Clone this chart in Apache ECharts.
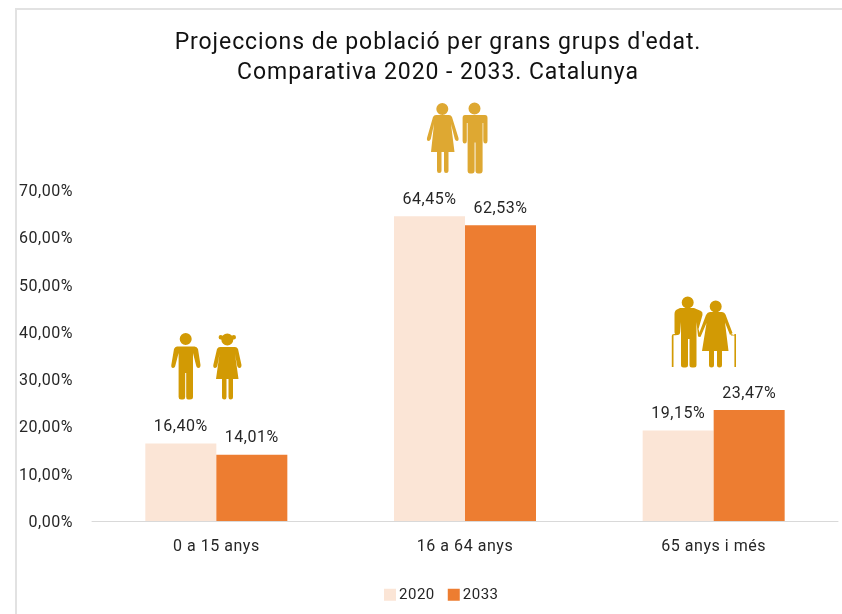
<!DOCTYPE html>
<html><head><meta charset="utf-8">
<style>html,body{margin:0;padding:0;background:#fff}#c{width:842px;height:614px}</style>
<script src="https://cdn.jsdelivr.net/npm/echarts@6/dist/echarts.min.js"></script>
</head><body><div id="c"></div>
<script>
const categories = ['0 a 15 anys', '16 a 64 anys', '65 anys i més'];
const values2020 = [16.40, 64.45, 19.15];
const values2033 = [14.01, 62.53, 23.47];
const titleText = "Projeccions de població per grans grups d'edat.\nComparativa 2020 - 2033. Catalunya";
const fontFamily = 'Roboto';
const fmt = v => v.toFixed(2).replace('.', ',') + '%';

// The reference text is set with slight tracking.
const fontDesc = Object.getOwnPropertyDescriptor(CanvasRenderingContext2D.prototype, 'font');
Object.defineProperty(CanvasRenderingContext2D.prototype, 'font', {
  get() { return fontDesc.get.call(this); },
  set(v) {
    fontDesc.set.call(this, v);
    const m = /(\d+(?:\.\d+)?)px/.exec(v);
    const size = m ? +m[1] : 0;
    this.letterSpacing = (size * (size > 20 ? 0.04 : 0.034)).toFixed(2) + 'px';
  }
});

const circle = (cx, cy, r) => `M${cx - r} ${cy}A${r} ${r} 0 1 1 ${cx + r} ${cy}A${r} ${r} 0 1 1 ${cx - r} ${cy}Z`;

const boy = circle(185.7, 339, 6) +
  'M177 346.5H194.5Q197 346.5 198 349L200.5 365Q200.5 368 198.5 368Q196.5 368 196 365L193 353V397Q193 399.5 190 399.5H188Q186.2 399.5 186.2 397V373H185.2V397Q185.2 399.5 183 399.5H181Q178.6 399.5 178.6 397V353L175.5 365Q175 368 173 368Q171 368 171.3 365L174 349Q175 346.5 177 346.5Z';
const girl = circle(227.3, 339.5, 6) + circle(220.8, 337.3, 2.2) + circle(233.8, 337.3, 2.2) +
  'M220 347H235Q237 347 238 349L241.5 365Q241.5 368 239.5 368Q237.5 368 237 365L235 354L238.5 379H233V397Q233 399.5 230.5 399.5Q228.5 399.5 228.5 397V379H226.5V397Q226.5 399.5 224.5 399.5Q222 399.5 222 397V379H216L219.5 354L217.5 365Q217 368 215 368Q213 368 213.3 365L217 349Q218 347 220 347Z';
const woman = circle(442.3, 109, 6) +
  'M436 115H449Q451 115 452 117L458.5 138Q459 141 457 141Q455.5 141 454.8 139L451 124L454.5 152H448.5V170.5Q448.5 173 446 173Q444 173 444 170.5V152H441.5V170.5Q441.5 173 439 173Q437 173 437 170.5V152H431L434 124L430.8 139Q430 141 428.5 141Q426.5 141 427 138L433 117Q434 115 436 115Z';
const man = circle(474.5, 108.5, 6) +
  'M465 115H485Q487.5 115 487.5 118V141Q487.5 143.5 485.5 143.5Q483.3 143.5 483.3 141V123H482.6V170.5Q482.6 173.5 480 173.5H478Q475.5 173.5 475.5 170.5V142.5H474.6V170.5Q474.6 173.5 472 173.5H470Q467.6 173.5 467.6 170.5V123H466.8V141Q466.8 143.5 464.8 143.5Q462.6 143.5 462.6 141V118Q462.6 115 465 115Z';
const oldMan = circle(687.7, 302.5, 6) +
  'M680 308H694L701 311Q703 312 702.5 315L698.5 329L700.5 336Q699 338 698 336L696.5 322V365Q696.5 367.5 694 367.5H692Q689.5 367.5 689.5 365V339H688V365Q688 367.5 685.5 367.5H683.5Q681 367.5 681 365V322L680.2 332Q680 335 677.5 335Q674.5 335 674.5 332V314Q674.5 310 678 309Z' +
  'M671.8 336Q671.8 334 674 334H676.5V335.3H673.5V367H671.8Z';
const oldWoman = circle(715.7, 306.5, 6) +
  'M710 312H722Q724.5 312 725.5 314.5L732.5 333L730 335L725 322.5L728.5 351H722V365Q722 367.5 719.5 367.5Q717 367.5 717 365V351H714V365Q714 367.5 711.5 367.5Q709 367.5 709 365V351H702L706.5 323L700.5 337L698.5 335L706 315Q707.5 312 710 312Z' +
  'M733.8 335Q733.8 334 736 334V367H734.4V335.5H731V334Z';
const icons = [[boy, '#D29A04'], [girl, '#D29A04'], [woman, '#DEA832'], [man, '#DEA832'], [oldMan, '#D29A04'], [oldWoman, '#D29A04']];

const textColor = '#262626';
const chart = echarts.init(document.getElementById('c'), null, { renderer: 'canvas' });
chart.setOption({
  animation: false,
  backgroundColor: '#fff',
  textStyle: { fontFamily },
  title: {
    text: titleText, left: 433, top: 23, textAlign: 'center',
    textStyle: { fontFamily, fontSize: 23, fontWeight: 400, color: '#111', lineHeight: 30 }
  },
  grid: { left: 92, right: 4, top: 190, bottom: 93 },
  legend: {
    data: [{ name: '2020', icon: 'rect' }, { name: '2033', icon: 'rect' }], left: 379, top: 582, itemWidth: 12, itemHeight: 12, itemGap: 13,
    textStyle: { fontFamily, fontSize: 15, color: textColor, padding: [0, 2, 0, -2] }
  },
  xAxis: {
    type: 'category', data: categories,
    axisTick: { show: false },
    axisLine: { lineStyle: { color: '#D9D9D9', width: 1 } },
    axisLabel: { fontSize: 16, color: textColor, margin: 18, fontFamily }
  },
  yAxis: {
    type: 'value', min: 0, max: 70, interval: 10,
    axisLine: { show: false }, axisTick: { show: false }, splitLine: { show: false },
    axisLabel: { fontSize: 16, color: textColor, margin: 19, fontFamily, formatter: fmt, verticalAlign: 'top', lineHeight: 4 }
  },
  series: [
    { name: '2020', type: 'bar', data: values2020, barWidth: 71, barGap: 0,
      itemStyle: { color: '#FBE5D6' },
      label: { show: true, position: 'top', distance: 8, fontSize: 16, color: textColor, fontFamily, formatter: p => fmt(p.value) } },
    { name: '2033', type: 'bar', data: values2033, barWidth: 71, barGap: 0,
      itemStyle: { color: '#ED7D31' },
      label: { show: true, position: 'top', distance: 8, fontSize: 16, color: textColor, fontFamily, formatter: p => fmt(p.value) } },
    { name: 'icons', type: 'custom', silent: true, z: 5, clip: false, data: [0],
      encode: { x: 0, y: 0 },
      renderItem: () => ({
        type: 'group',
        children: icons.map(([d, fill]) => ({ type: 'path', shape: { pathData: d }, style: { fill } }))
      }) }
  ],
  graphic: [
    { type: 'line', silent: true, shape: { x1: 16, y1: 9, x2: 842, y2: 9 }, style: { stroke: '#E2E2E2', lineWidth: 2 } },
    { type: 'line', silent: true, shape: { x1: 16, y1: 8, x2: 16, y2: 614 }, style: { stroke: '#E2E2E2', lineWidth: 2 } }
  ]
});
</script></body></html>
